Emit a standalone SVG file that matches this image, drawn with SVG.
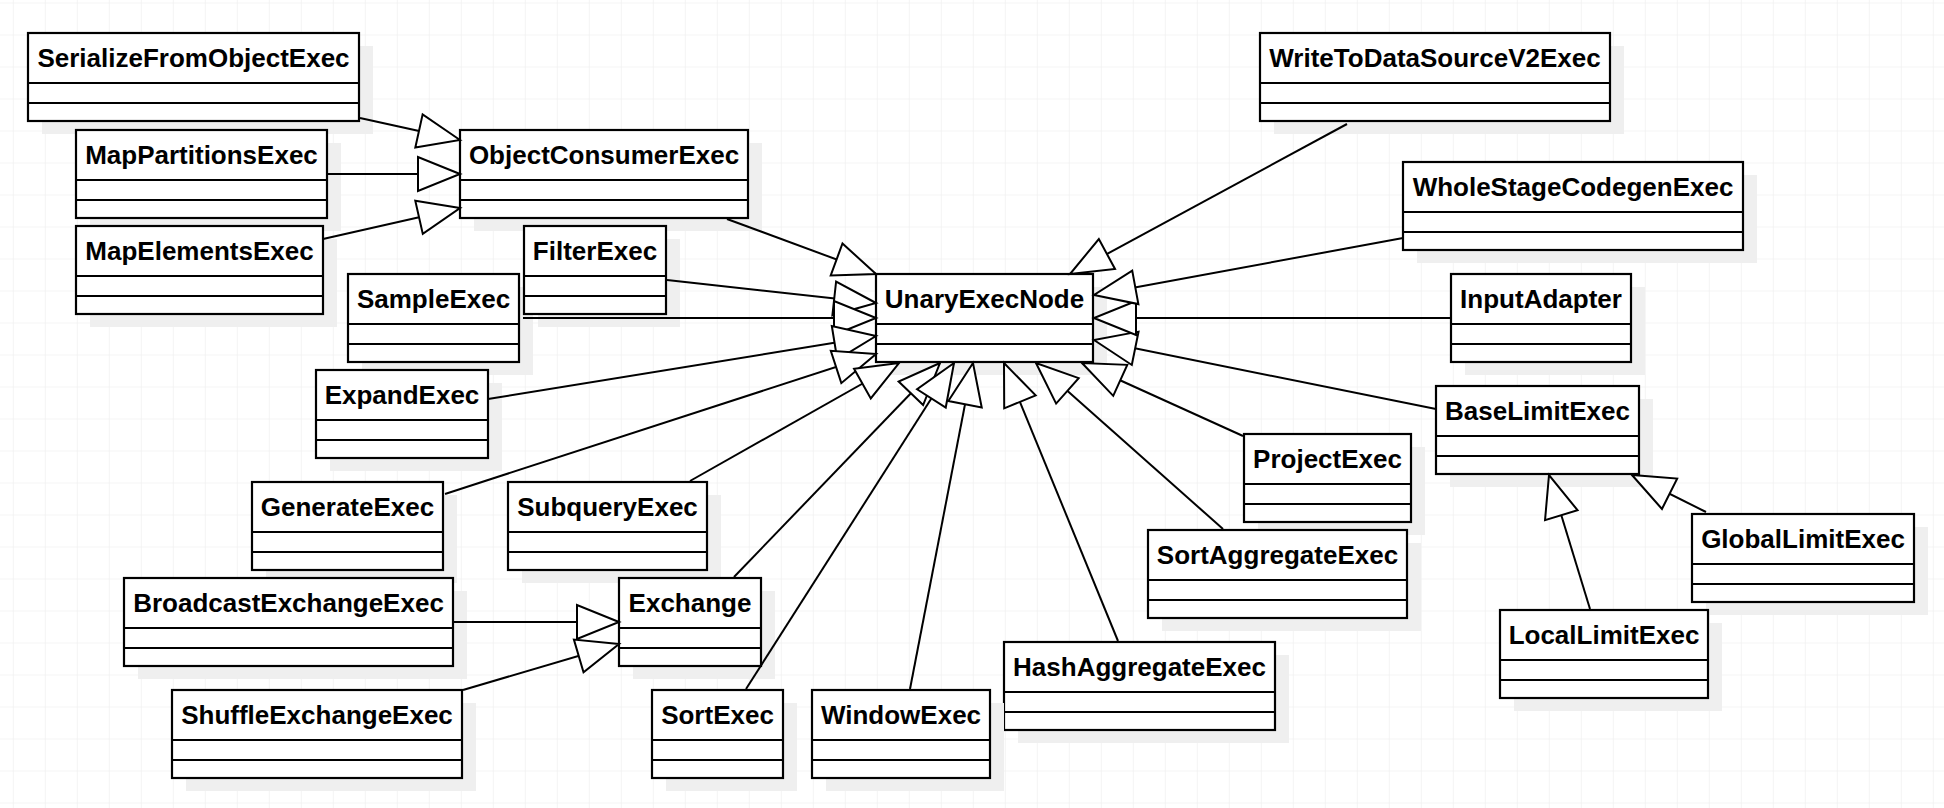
<svg xmlns="http://www.w3.org/2000/svg" width="1944" height="808" viewBox="0 0 1944 808">
<defs>
<pattern id="grid" width="32" height="32" patternUnits="userSpaceOnUse" x="12.8" y="2.5">
<path d="M0,0 H32 M0,0 V32" fill="none" stroke="#ececec" stroke-width="1.2"/>
</pattern>
<marker id="gen" viewBox="0 0 42 34" refX="42" refY="17" markerWidth="42" markerHeight="34" markerUnits="userSpaceOnUse" orient="auto" overflow="visible">
<path d="M42,17 L0,0 L0,34 Z" fill="#ffffff" stroke="#000000" stroke-width="2" stroke-linejoin="miter"/>
</marker>
<style>
.shadow{fill:#efefef;stroke:none}
.box{fill:#ffffff;stroke:#000000;stroke-width:2.2}
.div{stroke:#000000;stroke-width:2.2}
.name{font-family:"Liberation Sans",Arial,Helvetica,sans-serif;font-weight:bold;font-size:26px;fill:#000000;text-anchor:middle}
.edge{fill:none;stroke:#000000;stroke-width:2;marker-end:url(#gen)}
</style>
</defs>
<rect x="0" y="0" width="1944" height="808" fill="#ffffff"/>
<rect x="0" y="0" width="1944" height="808" fill="url(#grid)"/>

<g id="nodes">
<g id="SerializeFromObjectExec"><rect class="shadow" x="42" y="46" width="331" height="88"/><rect class="box" x="28" y="33" width="331" height="88"/><line class="div" x1="28" y1="83" x2="359" y2="83"/><line class="div" x1="28" y1="103" x2="359" y2="103"/><text class="name" x="193.5" y="67">SerializeFromObjectExec</text></g>
<g id="WriteToDataSourceV2Exec"><rect class="shadow" x="1274" y="46" width="350" height="88"/><rect class="box" x="1260" y="33" width="350" height="88"/><line class="div" x1="1260" y1="83" x2="1610" y2="83"/><line class="div" x1="1260" y1="103" x2="1610" y2="103"/><text class="name" x="1435" y="67">WriteToDataSourceV2Exec</text></g>
<g id="MapPartitionsExec"><rect class="shadow" x="90" y="143" width="251" height="88"/><rect class="box" x="76" y="130" width="251" height="88"/><line class="div" x1="76" y1="180" x2="327" y2="180"/><line class="div" x1="76" y1="200" x2="327" y2="200"/><text class="name" x="201.5" y="164">MapPartitionsExec</text></g>
<g id="ObjectConsumerExec"><rect class="shadow" x="474" y="143" width="288" height="88"/><rect class="box" x="460" y="130" width="288" height="88"/><line class="div" x1="460" y1="180" x2="748" y2="180"/><line class="div" x1="460" y1="200" x2="748" y2="200"/><text class="name" x="604" y="164">ObjectConsumerExec</text></g>
<g id="WholeStageCodegenExec"><rect class="shadow" x="1417" y="175" width="340" height="88"/><rect class="box" x="1403" y="162" width="340" height="88"/><line class="div" x1="1403" y1="212" x2="1743" y2="212"/><line class="div" x1="1403" y1="232" x2="1743" y2="232"/><text class="name" x="1573" y="196">WholeStageCodegenExec</text></g>
<g id="MapElementsExec"><rect class="shadow" x="90" y="239" width="247" height="88"/><rect class="box" x="76" y="226" width="247" height="88"/><line class="div" x1="76" y1="276" x2="323" y2="276"/><line class="div" x1="76" y1="296" x2="323" y2="296"/><text class="name" x="199.5" y="260">MapElementsExec</text></g>
<g id="SampleExec"><rect class="shadow" x="362" y="287" width="171" height="88"/><rect class="box" x="348" y="274" width="171" height="88"/><line class="div" x1="348" y1="324" x2="519" y2="324"/><line class="div" x1="348" y1="344" x2="519" y2="344"/><text class="name" x="433.5" y="308">SampleExec</text></g>
<g id="FilterExec"><rect class="shadow" x="538" y="239" width="142" height="88"/><rect class="box" x="524" y="226" width="142" height="88"/><line class="div" x1="524" y1="276" x2="666" y2="276"/><line class="div" x1="524" y1="296" x2="666" y2="296"/><text class="name" x="595" y="260">FilterExec</text></g>
<g id="UnaryExecNode"><rect class="shadow" x="890" y="287" width="217" height="88"/><rect class="box" x="876" y="274" width="217" height="88"/><line class="div" x1="876" y1="324" x2="1093" y2="324"/><line class="div" x1="876" y1="344" x2="1093" y2="344"/><text class="name" x="984.5" y="308">UnaryExecNode</text></g>
<g id="InputAdapter"><rect class="shadow" x="1465" y="287" width="180" height="88"/><rect class="box" x="1451" y="274" width="180" height="88"/><line class="div" x1="1451" y1="324" x2="1631" y2="324"/><line class="div" x1="1451" y1="344" x2="1631" y2="344"/><text class="name" x="1541" y="308">InputAdapter</text></g>
<g id="ExpandExec"><rect class="shadow" x="330" y="383" width="172" height="88"/><rect class="box" x="316" y="370" width="172" height="88"/><line class="div" x1="316" y1="420" x2="488" y2="420"/><line class="div" x1="316" y1="440" x2="488" y2="440"/><text class="name" x="402" y="404">ExpandExec</text></g>
<g id="BaseLimitExec"><rect class="shadow" x="1450" y="399" width="203" height="88"/><rect class="box" x="1436" y="386" width="203" height="88"/><line class="div" x1="1436" y1="436" x2="1639" y2="436"/><line class="div" x1="1436" y1="456" x2="1639" y2="456"/><text class="name" x="1537.5" y="420">BaseLimitExec</text></g>
<g id="ProjectExec"><rect class="shadow" x="1258" y="447" width="167" height="88"/><rect class="box" x="1244" y="434" width="167" height="88"/><line class="div" x1="1244" y1="484" x2="1411" y2="484"/><line class="div" x1="1244" y1="504" x2="1411" y2="504"/><text class="name" x="1327.5" y="468">ProjectExec</text></g>
<g id="GenerateExec"><rect class="shadow" x="266" y="495" width="191" height="88"/><rect class="box" x="252" y="482" width="191" height="88"/><line class="div" x1="252" y1="532" x2="443" y2="532"/><line class="div" x1="252" y1="552" x2="443" y2="552"/><text class="name" x="347.5" y="516">GenerateExec</text></g>
<g id="SubqueryExec"><rect class="shadow" x="522" y="495" width="199" height="88"/><rect class="box" x="508" y="482" width="199" height="88"/><line class="div" x1="508" y1="532" x2="707" y2="532"/><line class="div" x1="508" y1="552" x2="707" y2="552"/><text class="name" x="607.5" y="516">SubqueryExec</text></g>
<g id="GlobalLimitExec"><rect class="shadow" x="1706" y="527" width="222" height="88"/><rect class="box" x="1692" y="514" width="222" height="88"/><line class="div" x1="1692" y1="564" x2="1914" y2="564"/><line class="div" x1="1692" y1="584" x2="1914" y2="584"/><text class="name" x="1803" y="548">GlobalLimitExec</text></g>
<g id="SortAggregateExec"><rect class="shadow" x="1162" y="543" width="259" height="88"/><rect class="box" x="1148" y="530" width="259" height="88"/><line class="div" x1="1148" y1="580" x2="1407" y2="580"/><line class="div" x1="1148" y1="600" x2="1407" y2="600"/><text class="name" x="1277.5" y="564">SortAggregateExec</text></g>
<g id="BroadcastExchangeExec"><rect class="shadow" x="138" y="591" width="329" height="88"/><rect class="box" x="124" y="578" width="329" height="88"/><line class="div" x1="124" y1="628" x2="453" y2="628"/><line class="div" x1="124" y1="648" x2="453" y2="648"/><text class="name" x="288.5" y="612">BroadcastExchangeExec</text></g>
<g id="Exchange"><rect class="shadow" x="633" y="591" width="142" height="88"/><rect class="box" x="619" y="578" width="142" height="88"/><line class="div" x1="619" y1="628" x2="761" y2="628"/><line class="div" x1="619" y1="648" x2="761" y2="648"/><text class="name" x="690" y="612">Exchange</text></g>
<g id="LocalLimitExec"><rect class="shadow" x="1514" y="623" width="208" height="88"/><rect class="box" x="1500" y="610" width="208" height="88"/><line class="div" x1="1500" y1="660" x2="1708" y2="660"/><line class="div" x1="1500" y1="680" x2="1708" y2="680"/><text class="name" x="1604" y="644">LocalLimitExec</text></g>
<g id="HashAggregateExec"><rect class="shadow" x="1018" y="655" width="271" height="88"/><rect class="box" x="1004" y="642" width="271" height="88"/><line class="div" x1="1004" y1="692" x2="1275" y2="692"/><line class="div" x1="1004" y1="712" x2="1275" y2="712"/><text class="name" x="1139.5" y="676">HashAggregateExec</text></g>
<g id="ShuffleExchangeExec"><rect class="shadow" x="186" y="703" width="290" height="88"/><rect class="box" x="172" y="690" width="290" height="88"/><line class="div" x1="172" y1="740" x2="462" y2="740"/><line class="div" x1="172" y1="760" x2="462" y2="760"/><text class="name" x="317" y="724">ShuffleExchangeExec</text></g>
<g id="SortExec"><rect class="shadow" x="666" y="703" width="131" height="88"/><rect class="box" x="652" y="690" width="131" height="88"/><line class="div" x1="652" y1="740" x2="783" y2="740"/><line class="div" x1="652" y1="760" x2="783" y2="760"/><text class="name" x="717.5" y="724">SortExec</text></g>
<g id="WindowExec"><rect class="shadow" x="826" y="703" width="178" height="88"/><rect class="box" x="812" y="690" width="178" height="88"/><line class="div" x1="812" y1="740" x2="990" y2="740"/><line class="div" x1="812" y1="760" x2="990" y2="760"/><text class="name" x="901" y="724">WindowExec</text></g>
</g>

<g id="connectors">
<line class="edge" x1="360" y1="118" x2="460" y2="140"/>
<line class="edge" x1="327" y1="174" x2="460" y2="174"/>
<line class="edge" x1="323" y1="239" x2="460" y2="208"/>
<line class="edge" x1="727" y1="219" x2="876" y2="274"/>
<line class="edge" x1="667" y1="280" x2="876" y2="303"/>
<line class="edge" x1="523" y1="318" x2="876" y2="318"/>
<line class="edge" x1="488" y1="399" x2="876" y2="336"/>
<line class="edge" x1="445" y1="494" x2="876" y2="354"/>
<line class="edge" x1="690" y1="481" x2="899" y2="363"/>
<line class="edge" x1="734" y1="577" x2="940" y2="363"/>
<line class="edge" x1="746" y1="689" x2="954" y2="363"/>
<line class="edge" x1="910" y1="689" x2="973" y2="363"/>
<line class="edge" x1="1118" y1="641" x2="1004" y2="363"/>
<line class="edge" x1="1223" y1="529" x2="1036" y2="363"/>
<line class="edge" x1="1243" y1="436" x2="1082" y2="363"/>
<line class="edge" x1="1436" y1="409" x2="1094" y2="340"/>
<line class="edge" x1="1451" y1="318" x2="1094" y2="318"/>
<line class="edge" x1="1403" y1="238" x2="1094" y2="295"/>
<line class="edge" x1="1347" y1="124" x2="1070" y2="274"/>
<line class="edge" x1="453" y1="622" x2="619" y2="622"/>
<line class="edge" x1="463" y1="690" x2="619" y2="644"/>
<line class="edge" x1="1590" y1="609" x2="1549" y2="475"/>
<line class="edge" x1="1706" y1="512" x2="1632" y2="475"/>
</g>
</svg>
